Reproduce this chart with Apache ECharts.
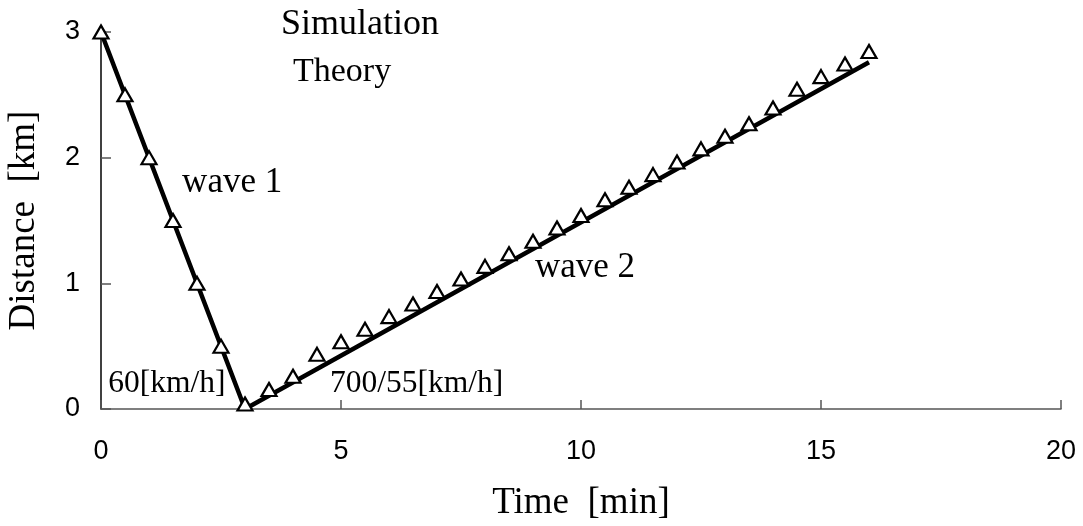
<!DOCTYPE html>
<html>
<head>
<meta charset="utf-8">
<script src="https://cdn.jsdelivr.net/npm/echarts@6/dist/echarts.min.js"></script>
<style>
  html, body { margin: 0; padding: 0; background: #fff; }
  #chart { width: 1083px; height: 526px; }
</style>
</head>
<body>
<div id="chart"></div>
<script>
// Simulated positions of the two waves [time min, distance km]
const wave1Time = [0, 0.5, 1, 1.5, 2, 2.5, 3];
const wave1Dist = [3, 2.5, 2.0, 1.5, 1.0, 0.5, 0.04];
const wave2Time = [3.5, 4, 4.5, 5, 5.5, 6, 6.5, 7, 7.5, 8, 8.5, 9, 9.5, 10,
                   10.5, 11, 11.5, 12, 12.5, 13, 13.5, 14, 14.5, 15, 15.5, 16];
const wave2Dist = [0.155, 0.26, 0.435, 0.535, 0.635, 0.735, 0.835, 0.935, 1.035, 1.135,
                   1.235, 1.335, 1.44, 1.54, 1.665, 1.765, 1.865, 1.965, 2.07, 2.17,
                   2.27, 2.395, 2.545, 2.645, 2.745, 2.845];

// Theoretical trajectory: 60 km/h inbound, then 700/55 km/h outbound
const theoryTime = [0, 3, 16];
const theoryDist = [3, 0, 2.76];

// Text notes anchored in data coordinates
const noteText = ['wave 1', 'wave 2', '60[km/h]', '700/55[km/h]'];
const noteTime = [1.69, 9.04, 0.15, 4.77];
const noteDist = [1.80, 1.12, 0.20, 0.20];

const xTicks = [0, 5, 10, 15, 20];
const yTicks = [0, 1, 2, 3];

const serif = '"Liberation Serif", "Times New Roman", serif';
const sans = '"Liberation Sans", Arial, sans-serif';
// wave names are set a little larger than the speed notes
const noteFontSize = name => name.startsWith('wave') ? 35 : 31.5;

const simData = wave1Time.map((t, i) => [t, wave1Dist[i]])
  .concat(wave2Time.map((t, i) => [t, wave2Dist[i]]));
const theoryData = theoryTime.map((t, i) => [t, theoryDist[i]]);
const noteData = noteText.map((s, i) => ({
  value: [noteTime[i], noteDist[i]],
  name: s,
  label: { fontSize: noteFontSize(s) }
}));

const chart = echarts.init(document.getElementById('chart'));
chart.setOption({
  backgroundColor: '#ffffff',
  animation: false,
  grid: { left: 101, right: 22, top: 32, bottom: 117, containLabel: false, outerBoundsMode: 'none' },
  legend: {
    orient: 'vertical',
    left: 270,
    top: 2,
    itemWidth: 0,
    itemHeight: 0,
    itemGap: 12,
    data: ['Simulation', 'Theory'],
    formatter: n => n === 'Theory' ? '{t|' + n + '}' : n,
    textStyle: {
      fontFamily: serif, fontSize: 36, color: '#000',
      rich: { t: { fontFamily: serif, fontSize: 34, color: '#000', padding: [0, 0, 0, 12] } }
    }
  },
  xAxis: {
    type: 'value',
    min: 0, max: 20, interval: 5,
    name: 'Time  [min]',
    nameLocation: 'middle',
    nameGap: 76,
    nameTextStyle: { fontFamily: serif, fontSize: 37, color: '#000' },
    axisLine: { show: true, onZero: false, lineStyle: { color: '#555', width: 1.5 } },
    axisTick: { show: true, inside: true, length: 9, lineStyle: { color: '#555', width: 1.5 } },
    axisLabel: {
      margin: 29, fontFamily: sans, fontSize: 27, color: '#000',
      formatter: v => xTicks.includes(v) ? String(v) : ''
    },
    splitLine: { show: false }
  },
  yAxis: {
    type: 'value',
    min: 0, max: 3, interval: 1,
    name: 'Distance  [km]',
    nameLocation: 'middle',
    nameGap: 58,
    nameTextStyle: { fontFamily: serif, fontSize: 37, color: '#000' },
    axisLine: { show: true, onZero: false, lineStyle: { color: '#000', width: 1.5 } },
    axisTick: { show: true, inside: true, length: 10, lineStyle: { color: '#555', width: 1.5 } },
    axisLabel: {
      margin: 21, fontFamily: sans, fontSize: 27, color: '#000',
      formatter: v => yTicks.includes(v) ? String(v) : ''
    },
    splitLine: { show: false }
  },
  series: [
    {
      name: 'Theory',
      type: 'line',
      data: theoryData,
      symbol: 'none',
      lineStyle: { color: '#000', width: 4.5 },
      itemStyle: { color: '#000' },
      z: 2
    },
    {
      name: 'Simulation',
      type: 'scatter',
      data: simData,
      symbol: 'triangle',
      symbolSize: [15, 13],
      itemStyle: { color: '#fff', borderColor: '#000', borderWidth: 2.2, opacity: 1 },
      z: 3
    },
    {
      name: 'notes',
      type: 'scatter',
      data: noteData,
      symbolSize: 0,
      silent: true,
      itemStyle: { opacity: 1 },
      label: {
        show: true,
        position: 'right',
        distance: 0,
        formatter: p => p.name,
        fontFamily: serif,
        color: '#000',
        opacity: 1
      },
      z: 4
    }
  ]
});
</script>
</body>
</html>
